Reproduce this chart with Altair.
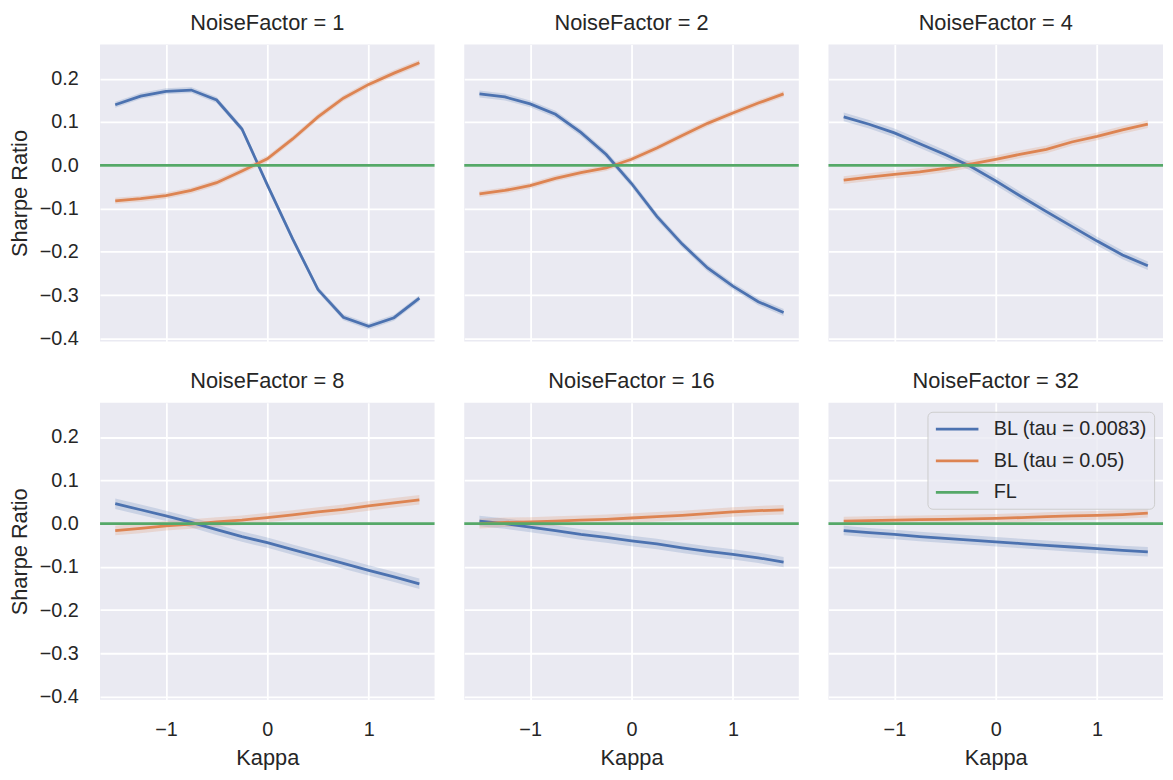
import altair as alt
import pandas as pd

kappa = [-1.5, -1.25, -1.0, -0.75, -0.5, -0.25, 0.0, 0.25, 0.5, 0.75, 1.0, 1.25, 1.5]
noise_factors = [1, 2, 4, 8, 16, 32]
series_names = ["BL (tau = 0.0083)", "BL (tau = 0.05)", "FL"]
series_colors = ["#4C72B0", "#DD8452", "#55A868"]

# BL (tau = 0.0083) per NoiseFactor
bl_small_nf1 = [0.140, 0.160, 0.171, 0.174, 0.151, 0.084, -0.045, -0.170, -0.287, -0.351, -0.372, -0.352, -0.307]
bl_small_nf2 = [0.165, 0.158, 0.142, 0.118, 0.076, 0.025, -0.042, -0.118, -0.182, -0.237, -0.279, -0.315, -0.340]
bl_small_nf4 = [0.112, 0.095, 0.075, 0.050, 0.025, -0.002, -0.036, -0.072, -0.107, -0.141, -0.175, -0.207, -0.232]
bl_small_nf8 = [0.046, 0.032, 0.018, 0.003, -0.014, -0.030, -0.044, -0.060, -0.076, -0.092, -0.108, -0.123, -0.139]
bl_small_nf16 = [0.006, 0.000, -0.008, -0.016, -0.025, -0.032, -0.040, -0.047, -0.056, -0.064, -0.071, -0.079, -0.089]
bl_small_nf32 = [-0.016, -0.021, -0.025, -0.030, -0.034, -0.038, -0.042, -0.046, -0.050, -0.054, -0.058, -0.062, -0.065]

# BL (tau = 0.05) per NoiseFactor
bl_large_nf1 = [-0.082, -0.077, -0.070, -0.058, -0.040, -0.013, 0.015, 0.061, 0.112, 0.155, 0.187, 0.213, 0.237]
bl_large_nf2 = [-0.066, -0.058, -0.047, -0.030, -0.017, -0.006, 0.014, 0.040, 0.069, 0.097, 0.121, 0.144, 0.165]
bl_large_nf4 = [-0.034, -0.027, -0.021, -0.015, -0.007, 0.003, 0.014, 0.026, 0.037, 0.054, 0.067, 0.082, 0.095]
bl_large_nf8 = [-0.016, -0.011, -0.005, -0.001, 0.004, 0.008, 0.014, 0.020, 0.027, 0.033, 0.041, 0.048, 0.055]
bl_large_nf16 = [0.000, 0.003, 0.004, 0.006, 0.008, 0.010, 0.013, 0.016, 0.019, 0.023, 0.027, 0.030, 0.032]
bl_large_nf32 = [0.006, 0.007, 0.008, 0.009, 0.010, 0.011, 0.012, 0.014, 0.016, 0.018, 0.019, 0.021, 0.024]

# FL level per NoiseFactor
fl_level = [0.0, 0.0, 0.0, 0.0, 0.0, 0.0]

# confidence band half-widths per NoiseFactor
ci_small = [0.007, 0.008, 0.010, 0.012, 0.012, 0.011]
ci_large = [0.007, 0.007, 0.009, 0.011, 0.011, 0.010]

bl_small = [bl_small_nf1, bl_small_nf2, bl_small_nf4, bl_small_nf8, bl_small_nf16, bl_small_nf32]
bl_large = [bl_large_nf1, bl_large_nf2, bl_large_nf4, bl_large_nf8, bl_large_nf16, bl_large_nf32]

rows = []
for i, nf in enumerate(noise_factors):
    for k, v in zip(kappa, bl_small[i]):
        rows.append({"NoiseFactor": nf, "Kappa": k, "Series": series_names[0], "SR": v,
                     "lo": v - ci_small[i], "hi": v + ci_small[i]})
    for k, v in zip(kappa, bl_large[i]):
        rows.append({"NoiseFactor": nf, "Kappa": k, "Series": series_names[1], "SR": v,
                     "lo": v - ci_large[i], "hi": v + ci_large[i]})
    rows.append({"NoiseFactor": nf, "Kappa": None, "Series": series_names[2], "SR": fl_level[i],
                 "lo": None, "hi": None})
df = pd.DataFrame(rows)

FONT = "Liberation Sans"
TXT = "#262626"

xscale = alt.Scale(domain=[-1.65, 1.65], nice=False, zero=False)
yscale = alt.Scale(domain=[-0.407, 0.279], nice=False, zero=False)
cscale = alt.Scale(domain=series_names, range=series_colors)

xaxis = alt.Axis(values=[-1, 0, 1], format="d", title="Kappa")
yaxis = alt.Axis(values=[-0.4, -0.3, -0.2, -0.1, 0.0, 0.1, 0.2], format=".1f", title="Sharpe Ratio")

legend = alt.Legend(
    title=None, orient="none", legendX=836, legendY=371,
    labelFontSize=20, labelFont=FONT, labelColor=TXT,
    symbolType="M-0.9,0H3.4", symbolSize=400, symbolStrokeWidth=2.8,
    symbolOpacity=1, symbolFillColor="transparent",
    rowPadding=10, padding=6, labelOffset=38,
    fillColor="rgba(234,234,242,0.8)", strokeColor="#cccccc", cornerRadius=5,
)

base = alt.Chart()

band = base.transform_filter("datum.Series != 'FL'").mark_area(opacity=0.2).encode(
    x=alt.X("Kappa:Q", scale=xscale, axis=xaxis),
    y=alt.Y("lo:Q", scale=yscale, axis=yaxis),
    y2="hi:Q",
    color=alt.Color("Series:N", scale=cscale, legend=legend),
)

line = base.transform_filter("datum.Series != 'FL'").mark_line(strokeWidth=2.8).encode(
    x=alt.X("Kappa:Q", scale=xscale, axis=xaxis),
    y=alt.Y("SR:Q", scale=yscale, axis=yaxis),
    color=alt.Color("Series:N", scale=cscale, legend=legend),
)

rule = base.transform_filter("datum.Series == 'FL'").mark_rule(strokeWidth=2.8).encode(
    y=alt.Y("SR:Q", scale=yscale, axis=yaxis),
    color=alt.Color("Series:N", scale=cscale, legend=legend),
)

layered = alt.layer(band, line, rule).properties(width=338, height=300)

chart = layered.facet(
    facet=alt.Facet("NoiseFactor:O", header=alt.Header(
        title=None, labelExpr="'NoiseFactor = ' + datum.value",
        labelFontSize=22, labelFont=FONT, labelColor=TXT, labelPadding=10)),
    columns=3,
    spacing={"row": 29, "column": 26},
    data=df,
).properties(
    padding={"left": 0, "top": 0, "right": 0, "bottom": 0}
).configure_view(
    fill="#EAEAF2", stroke=None
).configure_axis(
    grid=True, gridColor="white", gridWidth=1.8, domain=False, ticks=False,
    labelFontSize=20, titleFontSize=22, labelFont=FONT, titleFont=FONT,
    labelColor=TXT, titleColor=TXT, titleFontWeight="normal",
).configure_axisY(
    labelPadding=20, titlePadding=8
).configure_axisX(
    labelPadding=20, titlePadding=8
)

chart.save("out.html", embed_options={"renderer": "svg", "actions": False})
